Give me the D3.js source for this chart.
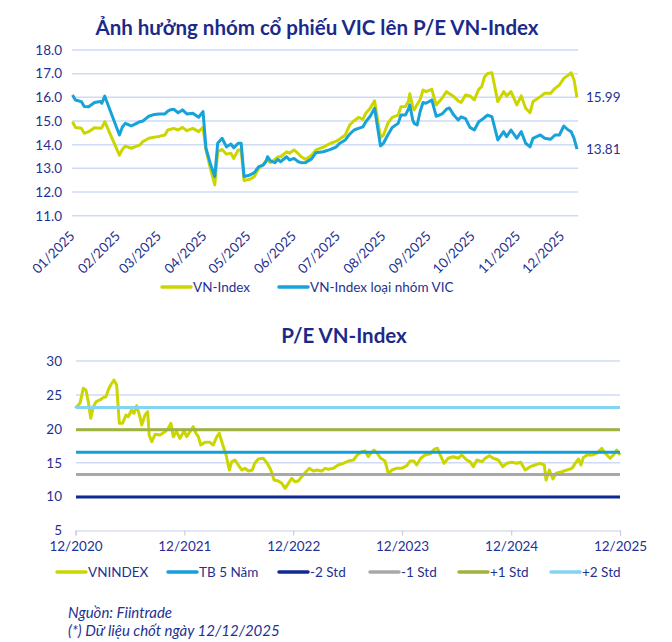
<!DOCTYPE html>
<html>
<head>
<meta charset="utf-8">
<script src="https://cdn.jsdelivr.net/npm/d3@7"></script>
<style>
  body { margin: 0; background: #fff; }
  svg { display: block; font-family: Lato, 'Noto Sans', sans-serif; }
  .axis text { fill: #1f3192; }
  .title { fill: #1b2a8a; font-weight: 700; }
  .note { fill: #1f3192; font-style: italic; }
</style>
</head>
<body>
<div class="chart"></div>
<script>
// ---- chart 1: P/E VN-Index with / without VIC group (2025) ----
const vicDates = [
  '01-02','01-04','01-08','01-10','01-13','01-17','01-21','01-22','01-24',
  '02-03','02-05','02-07','02-11','02-14','02-17','02-19','02-21','02-23','02-27',
  '03-02','03-06','03-08','03-10','03-12','03-15','03-18','03-21','03-25','03-29',
  '04-01','04-03','04-06','04-09','04-11','04-14','04-17','04-20','04-22','04-25','04-27','04-29',
  '05-03','05-06','05-09','05-12','05-14','05-15','05-17','05-20','05-22','05-24','05-28','05-30',
  '06-02','06-05','06-07','06-10','06-14','06-17','06-22','06-27',
  '07-01','07-03','07-07','07-10','07-13','07-16','07-19','07-21','07-24','07-27','07-31',
  '08-02','08-05','08-08','08-12','08-14','08-17','08-19','08-20','08-22','08-23','08-25','08-27','08-29','08-31',
  '09-04','09-07','09-11','09-14','09-16','09-19','09-22','09-24','09-27','09-30',
  '10-03','10-06','10-08','10-10','10-12','10-15','10-19','10-23','10-25','10-28',
  '11-01','11-04','11-07','11-10','11-12','11-17','11-20','11-24','11-27','11-30',
  '12-03','12-06','12-08','12-10','12-12'
]
const vnIndexPE = [
  14.97,14.73,14.69,14.48,14.55,14.72,14.69,14.72,14.97,
  13.56,13.80,13.94,13.85,13.92,13.99,14.13,14.20,14.27,14.32,
  14.35,14.41,14.62,14.65,14.69,14.62,14.73,14.59,14.69,14.55,
  14.73,13.78,13.00,12.30,13.70,13.80,13.60,13.64,13.42,13.78,13.78,12.48,
  12.54,12.65,13.00,13.15,13.32,13.35,13.24,13.38,13.49,13.49,13.70,13.64,
  13.78,13.62,13.49,13.38,13.56,13.78,13.90,14.06,
  14.15,14.23,14.41,14.83,15.01,15.15,15.07,15.33,15.54,15.85,14.30,
  14.40,14.90,15.15,15.25,15.60,15.61,15.82,16.15,15.60,15.47,15.70,15.90,16.31,16.24,
  16.34,15.68,15.96,16.24,16.15,16.03,15.85,15.78,16.10,16.06,
  15.89,16.34,16.45,16.87,17.01,17.04,15.82,16.24,16.06,16.24,
  15.68,16.06,15.54,15.35,15.82,16.03,16.17,16.17,16.38,16.52,
  16.80,16.94,17.04,16.73,15.99
]
const exVicPE = [
  16.10,15.89,15.82,15.61,15.60,15.78,15.82,15.75,16.05,
  14.41,14.75,14.90,14.79,14.88,14.97,15.00,15.10,15.20,15.28,
  15.30,15.30,15.42,15.48,15.50,15.35,15.47,15.30,15.33,15.16,
  15.40,13.85,13.20,12.65,14.06,14.27,13.91,14.03,13.87,14.06,14.06,12.65,
  12.72,12.82,13.07,13.14,13.30,13.49,13.32,13.24,13.38,13.28,13.49,13.35,
  13.42,13.28,13.24,13.25,13.40,13.66,13.70,13.80,
  13.91,14.05,14.20,14.45,14.62,14.69,14.75,14.97,15.20,15.54,13.95,
  14.06,14.41,14.73,14.90,15.25,15.25,15.50,15.68,15.04,14.90,14.83,15.39,15.78,15.75,
  15.89,15.20,15.30,15.50,15.55,15.25,15.04,15.18,15.10,14.73,
  14.62,14.97,15.05,15.15,15.25,15.18,14.20,14.55,14.34,14.62,
  14.27,14.55,14.06,13.91,14.27,14.41,14.27,14.23,14.41,14.41,
  14.79,14.62,14.55,14.27,13.81
]
const vicYTicks = [11, 12, 13, 14, 15, 16, 17, 18]
const monthTicks = ['01-01','02-01','03-01','04-01','05-01','06-01','07-01','08-01','09-01','10-01','11-01','12-01']
const vicSeriesNames = ['VN-Index', 'VN-Index loại nhóm VIC']

// ---- chart 2: P/E VN-Index, 5 years ----
const peDates = [
  '2020-12-12','2020-12-16','2020-12-27','2021-01-07','2021-01-16','2021-01-24','2021-02-01','2021-02-10','2021-02-19',
  '2021-03-04','2021-03-15','2021-03-24','2021-04-01','2021-04-09','2021-04-20','2021-04-29','2021-05-08','2021-05-19',
  '2021-05-30','2021-06-07','2021-06-18','2021-06-26','2021-07-05','2021-07-16','2021-07-22','2021-08-02','2021-08-11',
  '2021-08-16','2021-08-25','2021-09-05','2021-09-21','2021-10-08','2021-10-19','2021-10-28','2021-11-05','2021-11-16',
  '2021-11-27','2021-12-11','2021-12-20','2021-12-31','2022-01-11','2022-01-20','2022-01-28','2022-02-05','2022-02-19',
  '2022-03-08','2022-03-19','2022-03-31','2022-04-08','2022-04-20','2022-05-01','2022-05-12','2022-05-20','2022-05-31',
  '2022-06-11','2022-06-23','2022-07-03','2022-07-15','2022-07-28','2022-08-05','2022-08-17','2022-09-03','2022-09-16',
  '2022-09-28','2022-10-09','2022-10-23','2022-11-04','2022-11-15','2022-11-26','2022-12-07','2022-12-18','2022-12-29',
  '2023-01-10','2023-01-24','2023-02-04','2023-02-18','2023-03-01','2023-03-18','2023-03-29','2023-04-09','2023-04-26',
  '2023-05-12','2023-05-29','2023-06-15','2023-07-02','2023-07-15','2023-07-30','2023-08-10','2023-08-21','2023-08-29',
  '2023-09-09','2023-09-20','2023-10-02','2023-10-16','2023-10-27','2023-11-08','2023-11-24','2023-12-11','2023-12-28',
  '2024-01-08','2024-01-21','2024-01-30','2024-02-13','2024-02-27','2024-03-15','2024-03-29','2024-04-09','2024-04-18',
  '2024-05-01','2024-05-15','2024-06-01','2024-06-18','2024-06-29','2024-07-16','2024-07-27','2024-08-07','2024-08-19',
  '2024-09-05','2024-09-16','2024-09-30','2024-10-13','2024-10-30','2024-11-14','2024-11-27','2024-12-14','2024-12-31',
  '2025-01-13','2025-01-28','2025-02-14','2025-03-02','2025-03-19','2025-04-02','2025-04-08','2025-04-19','2025-05-01',
  '2025-05-12','2025-05-31','2025-06-17','2025-07-04','2025-07-15','2025-07-26','2025-08-03','2025-08-11','2025-08-23',
  '2025-09-09','2025-09-25','2025-10-12','2025-10-23','2025-11-09','2025-11-20','2025-12-01','2025-12-12'
]
const vnindexPE5y = [
  23.0,23.26,23.76,25.97,25.72,24.0,21.55,23.26,24.0,
  24.25,24.6,24.73,25.72,26.46,27.2,26.46,20.81,20.81,
  22.04,21.78,22.77,22.29,23.41,21.78,20.56,22.04,22.53,
  19.09,18.1,19.19,19.09,19.58,20.07,20.81,18.84,19.58,
  18.6,19.67,18.84,19.58,20.31,19.33,18.84,17.61,18.0,
  18.0,17.61,18.84,19.33,17.61,16.14,13.92,15.15,15.4,
  14.66,13.92,14.17,13.78,13.92,14.91,15.55,15.65,14.91,
  13.92,12.45,12.3,11.96,11.22,11.96,12.7,12.2,12.3,
  12.94,13.67,14.17,13.78,13.92,13.78,14.17,14.03,14.17,
  14.66,14.91,15.25,15.4,16.14,16.62,16.73,15.88,16.39,
  16.87,16.39,15.65,15.25,13.44,13.92,14.17,14.17,14.56,
  15.25,15.25,14.66,15.65,16.14,16.3,17.0,17.12,16.14,
  14.91,15.65,15.88,15.65,16.14,15.4,15.15,14.41,15.4,
  15.15,15.65,16.03,15.65,15.4,14.41,14.91,15.06,14.91,
  15.06,13.92,14.41,14.66,14.91,14.66,12.45,13.92,12.6,
  13.44,13.67,13.92,14.17,14.91,15.55,14.66,15.75,16.14,
  16.14,16.39,17.12,16.39,15.65,16.14,16.87,16.14
]
const bandNames = ['TB 5 Năm', '-2 Std', '-1 Std', '+1 Std', '+2 Std']
const bandValues = [16.55, 9.95, 13.25, 19.85, 23.15]
const bandColors = ['#139fd9', '#0f2a92', '#a8a8a8', '#a0b43c', '#84d3f0']
const peYTicks = [5, 10, 15, 20, 25, 30]
const yearTicks = ['2020-12-12','2021-12-12','2022-12-12','2023-12-12','2024-12-12','2025-12-12']

const yellow = '#cbd600'
const blue = '#17a2da'
const navy = '#1f3192'
const gridColor = '#cfdaf7'

const width = 672
const height = 642

const parseDay = d3.timeParse('%Y-%m-%d')

const svg = d3
  .select('.chart')
  .append('svg')
  .attr('width', width)
  .attr('height', height)

svg.append('rect').attr('width', width).attr('height', height).attr('fill', '#fff')

// ===== chart 1 =====
svg
  .append('text')
  .attr('class', 'title')
  .attr('x', 317)
  .attr('y', 35)
  .attr('text-anchor', 'middle')
  .style('font-size', '20.5px')
  .text('Ảnh hưởng nhóm cổ phiếu VIC lên P/E VN-Index')

const x1 = d3
  .scaleTime()
  .domain([parseDay('2025-01-02'), parseDay('2025-12-12')])
  .range([72.5, 577])
const y1 = d3.scaleLinear().domain([11, 18]).range([215.7, 50])

svg
  .append('g')
  .selectAll('line')
  .data(vicYTicks)
  .enter()
  .append('line')
  .attr('x1', 72)
  .attr('x2', 578)
  .attr('y1', d => y1(d))
  .attr('y2', d => y1(d))
  .attr('stroke', gridColor)
  .attr('stroke-width', 1.5)

const yAxis1 = d3.axisLeft(y1).tickValues(vicYTicks).tickSize(0).tickPadding(10).tickFormat(d3.format('.1f'))
svg
  .append('g')
  .attr('class', 'axis')
  .attr('transform', 'translate(72, 0)')
  .call(yAxis1)
  .call(g => g.select('.domain').remove())
  .selectAll('text')
  .style('font-size', '13.5px')
  .style('font-family', 'Lato, sans-serif')

const xAxis1 = d3
  .axisBottom(x1)
  .tickValues(monthTicks.map(d => parseDay('2025-' + d)))
  .tickSize(0)
  .tickFormat(d3.timeFormat('%m/%Y'))
svg
  .append('g')
  .attr('class', 'axis')
  .attr('transform', 'translate(0, 222)')
  .call(xAxis1)
  .call(g => g.select('.domain').remove())
  .selectAll('text')
  .attr('y', 0)
  .attr('dy', '0')
  .attr('transform', 'translate(4, 15) rotate(-45)')
  .style('text-anchor', 'end')
  .style('font-size', '13.5px')
  .style('font-family', 'Lato, sans-serif')

const vicRows = vicDates.map((d, i) => ({ date: parseDay('2025-' + d), vn: vnIndexPE[i], ex: exVicPE[i] }))

const line1 = key => d3.line().x(d => x1(d.date)).y(d => y1(d[key]))

svg
  .append('path')
  .datum(vicRows)
  .attr('d', line1('vn'))
  .attr('fill', 'none')
  .attr('stroke', yellow)
  .attr('stroke-width', 3)
  .attr('stroke-linejoin', 'round')

svg
  .append('path')
  .datum(vicRows)
  .attr('d', line1('ex'))
  .attr('fill', 'none')
  .attr('stroke', blue)
  .attr('stroke-width', 3)
  .attr('stroke-linejoin', 'round')

const lastRow = vicRows[vicRows.length - 1]
svg
  .append('g')
  .selectAll('text')
  .data([lastRow.vn, lastRow.ex])
  .enter()
  .append('text')
  .attr('x', x1(lastRow.date) + 9)
  .attr('y', d => y1(d))
  .attr('dy', '0.35em')
  .attr('fill', navy)
  .style('font-size', '13.5px')
  .text(d => d.toFixed(2))

const legend1 = svg
  .append('g')
  .selectAll('g')
  .data(vicSeriesNames)
  .enter()
  .append('g')
  .attr('transform', (d, i) => `translate(${[162, 279][i]}, 287)`)
legend1
  .append('line')
  .attr('x1', 0)
  .attr('x2', 29)
  .attr('stroke', (d, i) => [yellow, blue][i])
  .attr('stroke-width', 3.5)
  .attr('stroke-linecap', 'round')
legend1
  .append('text')
  .attr('x', 31)
  .attr('dy', '0.35em')
  .attr('fill', navy)
  .style('font-size', '13.5px')
  .text(d => d)

// ===== chart 2 =====
svg
  .append('text')
  .attr('class', 'title')
  .attr('x', 344)
  .attr('y', 343)
  .attr('text-anchor', 'middle')
  .style('font-size', '20.5px')
  .text('P/E VN-Index')

const x2 = d3
  .scaleTime()
  .domain([parseDay(yearTicks[0]), parseDay(yearTicks[yearTicks.length - 1])])
  .range([75.5, 620])
const y2 = d3.scaleLinear().domain([5, 30]).range([530.5, 361])

svg
  .append('g')
  .selectAll('line')
  .data(peYTicks.slice(1))
  .enter()
  .append('line')
  .attr('x1', 76)
  .attr('x2', 620)
  .attr('y1', d => y2(d))
  .attr('y2', d => y2(d))
  .attr('stroke', gridColor)
  .attr('stroke-width', 1.5)

const yAxis2 = d3.axisLeft(y2).tickValues(peYTicks).tickSize(0).tickPadding(14)
svg
  .append('g')
  .attr('class', 'axis')
  .attr('transform', 'translate(76, 0)')
  .call(yAxis2)
  .call(g => g.select('.domain').remove())
  .selectAll('text')
  .style('font-size', '13.5px')
  .style('font-family', 'Lato, sans-serif')

const xAxis2 = d3
  .axisBottom(x2)
  .tickValues(yearTicks.map(parseDay))
  .tickSize(5)
  .tickPadding(6)
  .tickFormat(d3.timeFormat('%m/%Y'))
svg
  .append('g')
  .attr('class', 'axis')
  .attr('transform', 'translate(0, 530.5)')
  .call(xAxis2)
  .call(g => g.select('.domain').attr('stroke', '#c6cfe6').attr('stroke-width', 1.2))
  .call(g => g.selectAll('.tick line').attr('stroke', '#c6cfe6').attr('stroke-width', 1.2))
  .selectAll('text')
  .style('font-size', '13.5px')
  .style('font-family', 'Lato, sans-serif')

const peRows = peDates.map((d, i) => ({ date: parseDay(d), pe: vnindexPE5y[i] }))

svg
  .append('path')
  .datum(peRows)
  .attr('d', d3.line().x(d => x2(d.date)).y(d => y2(d.pe)))
  .attr('fill', 'none')
  .attr('stroke', yellow)
  .attr('stroke-width', 3)
  .attr('stroke-linejoin', 'round')

svg
  .append('g')
  .selectAll('line')
  .data(bandValues)
  .enter()
  .append('line')
  .attr('x1', 76)
  .attr('x2', 620)
  .attr('y1', d => y2(d))
  .attr('y2', d => y2(d))
  .attr('stroke', (d, i) => bandColors[i])
  .attr('stroke-width', 3)

const legend2Names = ['VNINDEX'].concat(bandNames)
const legend2Colors = [yellow].concat(bandColors)
const legend2X = [57, 168, 279, 370, 459, 551]
const legend2 = svg
  .append('g')
  .selectAll('g')
  .data(legend2Names)
  .enter()
  .append('g')
  .attr('transform', (d, i) => `translate(${legend2X[i]}, 572)`)
legend2
  .append('line')
  .attr('x1', 0)
  .attr('x2', 29)
  .attr('stroke', (d, i) => legend2Colors[i])
  .attr('stroke-width', 3.5)
  .attr('stroke-linecap', 'round')
legend2
  .append('text')
  .attr('x', 31)
  .attr('dy', '0.35em')
  .attr('fill', navy)
  .style('font-size', '13.5px')
  .text(d => d)

// footnotes
svg
  .append('text')
  .attr('class', 'note')
  .attr('x', 68)
  .attr('y', 618)
  .style('font-size', '15px')
  .text('Nguồn: Fiintrade')
svg
  .append('text')
  .attr('class', 'note')
  .attr('x', 68)
  .attr('y', 636)
  .style('font-size', '15px')
  .text('(*) Dữ liệu chốt ngày 12/12/2025')
</script>
</body>
</html>
